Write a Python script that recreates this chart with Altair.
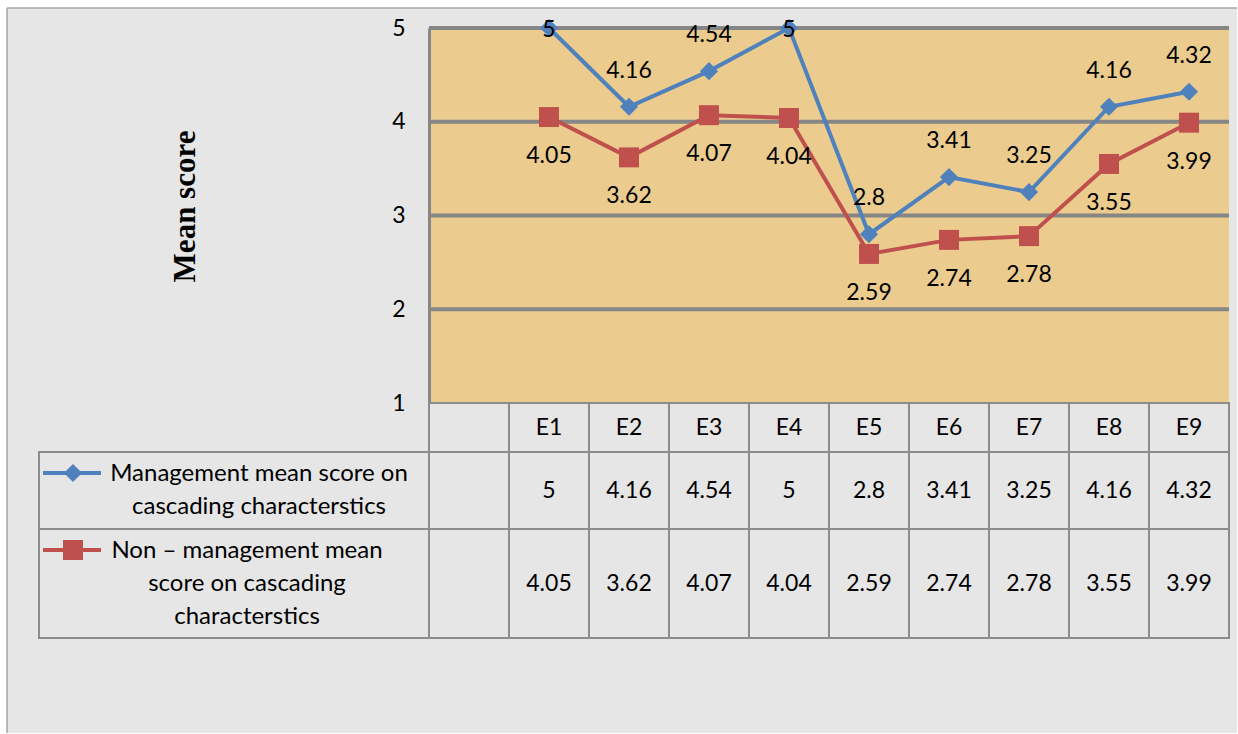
import altair as alt
import pandas as pd

# ---------------- data ----------------
CATS = ["E1", "E2", "E3", "E4", "E5", "E6", "E7", "E8", "E9"]
MGMT = [5, 4.16, 4.54, 5, 2.8, 3.41, 3.25, 4.16, 4.32]
NONMGMT = [4.05, 3.62, 4.07, 4.04, 2.59, 2.74, 2.78, 3.55, 3.99]
SERIES = [
    "Management mean score on cascading characterstics",
    "Non \u2013 management mean score on cascading characterstics",
]
LEGEND_TEXT = [
    "Management mean score on\ncascading characterstics",
    "Non \u2013 management mean\nscore on cascading\ncharacterstics",
]
Y_TICKS = [1, 2, 3, 4, 5]
GRID_VALUES = [2, 3, 4, 5]
Y_TITLE = "Mean score"

# ---------------- style / layout ----------------
BLUE = "#4f81bd"
RED = "#c0504d"
TAN = "#ebcc8e"
BG = "#e6e6e6"
GRID_C = "#868686"
BORDER_C = "#8c8c8c"
FONT = "Lato"
FS = 23
LEG_FS = 24
LINE_H = 33
W, H = 800, 375          # plot area
TH = 235                 # table height
ROW_BOUNDS = [0, 49, 126, 235]
LEGEND_W = 390
LEGEND_TEXT_X = [-170, -182]

XDOMAIN = [" "] + CATS

rows = []
for s, vals in zip(SERIES, [MGMT, NONMGMT]):
    for c, v in zip(CATS, vals):
        rows.append({"cat": c, "value": v, "series": s, "label": f"{v:g}"})
df = pd.DataFrame(rows)

xs_top = alt.Scale(domain=XDOMAIN, type="point", padding=0.5)
ys = alt.Scale(domain=[1, 5], nice=False, zero=False)
color_s = alt.Scale(domain=SERIES, range=[BLUE, RED])

dummy = pd.DataFrame({"a": [0]})

frame = alt.Chart(dummy).mark_rect(color=BG).encode(
    x=alt.value(-422), x2=alt.value(808), y=alt.value(-20), y2=alt.value(705)
)
frame_left = alt.Chart(dummy).mark_rule(color="#a6a6a6", strokeWidth=1.5).encode(
    x=alt.value(-422), y=alt.value(-20), y2=alt.value(705)
)
frame_top = alt.Chart(dummy).mark_rule(color="#a6a6a6", strokeWidth=1.5).encode(
    x=alt.value(-422), x2=alt.value(808), y=alt.value(-20)
)

yaxis = alt.Axis(
    values=Y_TICKS, format="d", grid=False, ticks=False, domain=True, domainColor=GRID_C,
    domainWidth=3, labelFont=FONT, labelFontSize=FS, labelColor="black",
    labelPadding=24, title=Y_TITLE, titleFont="Liberation Serif",
    titleFontWeight="bold", titleFontSize=31, titleColor="black",
    titleAngle=270, titleX=-235, titleY=178, titleBaseline="alphabetic",
    titleAlign="center", zindex=1, labelBaseline="middle",
)

plot_bg = alt.Chart(pd.DataFrame({"lo": [1], "hi": [5]})).mark_rect(color=TAN).encode(
    y=alt.Y("lo:Q", scale=ys, axis=yaxis), y2="hi:Q",
    x=alt.value(0), x2=alt.value(W),
)

grid = alt.Chart(pd.DataFrame({"g": GRID_VALUES})).mark_rule(
    color=GRID_C, strokeWidth=4
).encode(y=alt.Y("g:Q", scale=ys))

base = alt.Chart(df)
xenc = alt.X("cat:N", scale=xs_top, axis=None)

lines = base.mark_line(strokeWidth=4).encode(
    x=xenc, y=alt.Y("value:Q", scale=ys),
    color=alt.Color("series:N", scale=color_s, legend=None),
)
points = base.mark_point(filled=True, opacity=1).encode(
    x=xenc, y=alt.Y("value:Q", scale=ys),
    color=alt.Color("series:N", scale=color_s, legend=None),
    shape=alt.Shape("series:N", scale=alt.Scale(domain=SERIES, range=["diamond", "square"]), legend=None),
    size=alt.Size("series:N", scale=alt.Scale(domain=SERIES, range=[330, 400]), legend=None),
)
lab_m = base.transform_filter(alt.datum.series == SERIES[0]).transform_calculate(
    ly="min(datum.value + 0.384, 4.98)"
).mark_text(font=FONT, fontSize=FS, color="black", baseline="middle").encode(
    x=xenc, y=alt.Y("ly:Q", scale=ys), text="label:N"
)
lab_n = base.transform_filter(alt.datum.series == SERIES[1]).mark_text(
    font=FONT, fontSize=FS, color="black", baseline="middle", dy=39
).encode(x=xenc, y=alt.Y("value:Q", scale=ys), text="label:N")

top = alt.layer(frame, frame_left, frame_top, plot_bg, grid, lines, points, lab_m, lab_n).properties(
    width=W, height=H
)

# ---------------- data table ----------------
xb = alt.Scale(domain=XDOMAIN, type="band", paddingInner=0, paddingOuter=0)
yt = alt.Scale(domain=[0, TH], reverse=True, nice=False, zero=False)

cells = pd.DataFrame([
    {"cat": c, "top": ROW_BOUNDS[r], "bot": ROW_BOUNDS[r + 1]}
    for r in range(3) for c in XDOMAIN
])
cell_marks = alt.Chart(cells).mark_rect(fillOpacity=0, stroke=BORDER_C, strokeWidth=2).encode(
    x=alt.X("cat:N", scale=xb, axis=None),
    y=alt.Y("top:Q", scale=yt, axis=None), y2="bot:Q",
)

leg_rows = pd.DataFrame({
    "series": SERIES,
    "top": ROW_BOUNDS[1:3],
    "bot": ROW_BOUNDS[2:4],
    "text": LEGEND_TEXT,
    "tx": LEGEND_TEXT_X,
})
leg_rows["nlines"] = leg_rows["text"].str.count("\n") + 1
leg_rows["ty"] = (leg_rows["top"] + leg_rows["bot"]) / 2 - (leg_rows["nlines"] - 1) * LINE_H / 2
leg_rows["key"] = leg_rows["top"] + 21

leg_cells = alt.Chart(leg_rows).mark_rect(fillOpacity=0, stroke=BORDER_C, strokeWidth=2).encode(
    x=alt.value(-LEGEND_W), x2=alt.value(0),
    y=alt.Y("top:Q", scale=yt, axis=None), y2="bot:Q",
)
leg_key_line = alt.Chart(leg_rows).mark_rule(strokeWidth=4).encode(
    x=alt.value(-386), x2=alt.value(-328),
    y=alt.Y("key:Q", scale=yt, axis=None),
    color=alt.Color("series:N", scale=color_s, legend=None),
)
leg_key_pt = alt.Chart(leg_rows).mark_point(filled=True, opacity=1).encode(
    x=alt.value(-356),
    y=alt.Y("key:Q", scale=yt, axis=None),
    color=alt.Color("series:N", scale=color_s, legend=None),
    shape=alt.Shape("series:N", scale=alt.Scale(domain=SERIES, range=["diamond", "square"]), legend=None),
    size=alt.Size("series:N", scale=alt.Scale(domain=SERIES, range=[330, 400]), legend=None),
)
leg_text = alt.Chart(leg_rows).mark_text(
    font=FONT, fontSize=LEG_FS, color="black", baseline="middle", align="center",
    lineBreak="\n", lineHeight=LINE_H,
).encode(
    x=alt.X("tx:Q", scale=None), y=alt.Y("ty:Q", scale=yt, axis=None), text="text:N"
)

hdr = pd.DataFrame({"cat": CATS, "y": (ROW_BOUNDS[0] + ROW_BOUNDS[1]) / 2})
hdr_text = alt.Chart(hdr).mark_text(font=FONT, fontSize=FS, color="black", baseline="middle").encode(
    x=alt.X("cat:N", scale=xb, axis=None), y=alt.Y("y:Q", scale=yt, axis=None), text="cat:N"
)

tab = df.copy()
tab["y"] = tab["series"].map({
    SERIES[0]: (ROW_BOUNDS[1] + ROW_BOUNDS[2]) / 2,
    SERIES[1]: (ROW_BOUNDS[2] + ROW_BOUNDS[3]) / 2,
})
val_text = alt.Chart(tab).mark_text(font=FONT, fontSize=FS, color="black", baseline="middle").encode(
    x=alt.X("cat:N", scale=xb, axis=None), y=alt.Y("y:Q", scale=yt, axis=None), text="label:N"
)

table = alt.layer(cell_marks, leg_cells, leg_key_line, leg_key_pt, leg_text, hdr_text, val_text).properties(
    width=W, height=TH
)

chart = alt.vconcat(top, table, spacing=0, bounds="flush").properties(
    padding={"left": 6, "top": 7, "right": 0, "bottom": 0},
    background="white",
).configure_view(stroke=None)

chart.save("out.html", embed_options={"renderer": "svg", "actions": False})
